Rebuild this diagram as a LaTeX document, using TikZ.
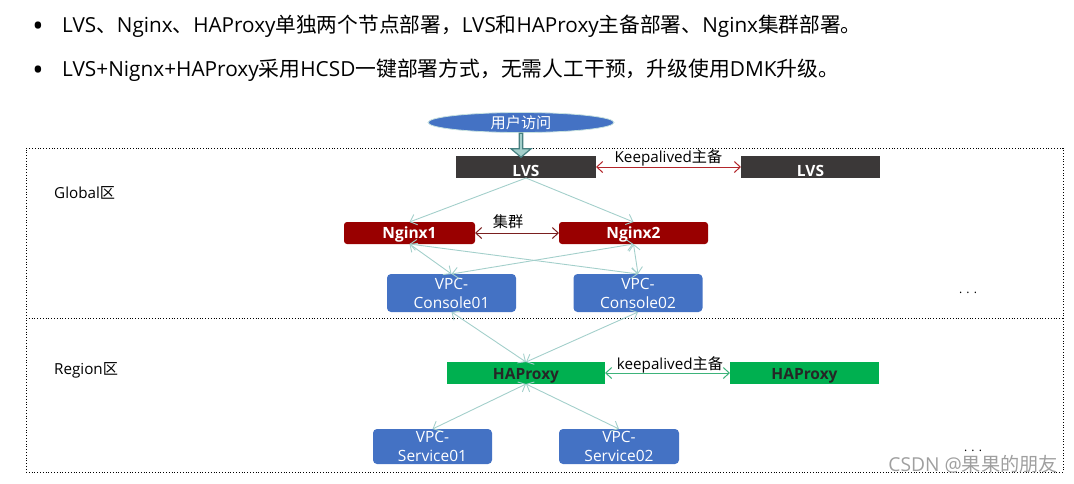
\documentclass[tikz,border=0pt]{standalone}
\usepackage{fontspec}
\setmainfont{Open Sans}
\newfontfamily\cjk{Noto Sans CJK SC}
\usepackage{tikz}
\usetikzlibrary{arrows,arrows.meta,shapes,calc,positioning}
\definecolor{userblue}{HTML}{4472C4}
\definecolor{lvsgrey}{HTML}{3B3838}
\definecolor{nginxred}{HTML}{990000}
\definecolor{proxygreen}{HTML}{00B050}
\definecolor{linkteal}{HTML}{A3CFCB}
\definecolor{peerred}{HTML}{B3262B}
\definecolor{peerdark}{HTML}{7A1F1F}
\definecolor{peergreen}{HTML}{3DB37A}
\newcommand{\zh}[1]{{\cjk #1}}
\tikzstyle{hostbox}=[inner sep=0pt, outer sep=0pt, text depth=0pt, text height=11.5pt,
                     font=\fontsize{15.5}{16}\selectfont\bfseries]
\tikzstyle{vpcbox}=[inner sep=0pt, outer sep=0pt, fill=userblue, text=white, rounded corners=4pt,
                    align=center, font=\fontsize{15.5}{19}\selectfont]
\tikzstyle{link}=[draw=linkteal, >={Straight Barb[length=6pt,width=11pt]}, line width=0.9pt]
\tikzstyle{peer}=[>={Straight Barb[length=6pt,width=11pt]}, line width=1pt]
\tikzstyle{caption}=[inner sep=0pt, font=\fontsize{15.2}{17}\selectfont]
\tikzstyle{bulletline}=[inner sep=0pt, anchor=west, font=\fontsize{20.7}{24}\selectfont]
\tikzstyle{bulletdot}=[inner sep=0pt, font=\fontsize{30}{32}\selectfont]
\begin{document}
\begin{tikzpicture}[x=1pt, y=-1pt]
    \useasboundingbox (0,0) rectangle (1074,483);
    % text above the diagram
    \node (dot1) [bulletdot] at (38,29) {•};
    \node (dot2) [bulletdot] at (38,73) {•};
    \node (line1) [bulletline] at (62,26) {LVS\zh{、}Nginx\zh{、}HAProxy\zh{单独两个节点部署，}LVS\zh{和}HAProxy\zh{主备部署、}Nginx\zh{集群部署。}};
    \node (line2) [bulletline, font=\fontsize{20.8}{24}\selectfont] at (62,70) {LVS+Nignx+HAProxy\zh{采用}HCSD\zh{一键部署方式，无需人工干预，升级使用}DMK\zh{升级。}};
    % zones
    \node (zone) [draw, dotted, line width=0.8pt, inner sep=0pt, outer sep=0pt,
        minimum width=1037pt, minimum height=324pt] at (544.5,310) {};
    \coordinate (midl) at (26,318);
    \coordinate (midr) at (1063,318);
    \draw[dotted, line width=0.8pt] (midl) -- (midr);
    \node (global) [caption, anchor=west] at (54,193) {Global\zh{区}};
    \node (region) [caption, anchor=west] at (54,370) {Region\zh{区}};
    % hosts
    \node (lvsa) [hostbox, fill=lvsgrey, text=white, text height=19pt, minimum width=140pt, minimum height=22pt] at (526,167) {LVS};
    \node (lvsb) [hostbox, fill=lvsgrey, text=white, text height=19pt, minimum width=139pt, minimum height=22pt] at (810.5,167) {LVS};
    \node (nginxa) [hostbox, fill=nginxred, text=white, rounded corners=3pt, minimum width=131pt, minimum height=22pt] at (409.5,233) {Nginx1};
    \node (nginxb) [hostbox, fill=nginxred, text=white, rounded corners=3pt, minimum width=149pt, minimum height=22pt] at (633.5,233) {Nginx2};
    \node (consolea) [vpcbox, minimum width=129pt, minimum height=38pt] at (451.5,293) {VPC-\\Console01};
    \node (consoleb) [vpcbox, minimum width=129pt, minimum height=38pt] at (638,293) {VPC-\\Console02};
    \node (proxya) [hostbox, fill=proxygreen, text=black!85, text height=13pt, minimum width=158pt, minimum height=22pt] at (526,373) {HAProxy};
    \node (proxyb) [hostbox, fill=proxygreen, text=black!85, text height=13pt, minimum width=149pt, minimum height=22pt] at (804.5,373) {HAProxy};
    \node (servicea) [vpcbox, minimum width=119pt, minimum height=35pt] at (432.5,446.5) {VPC-\\Service01};
    \node (serviceb) [vpcbox, minimum width=120pt, minimum height=35pt] at (619,446.5) {VPC-\\Service02};
    % entry
    \node (user) [ellipse, draw=linkteal!60, fill=userblue, text=white, inner sep=0pt, line width=0.8pt,
        minimum width=186pt, minimum height=20pt, font=\fontsize{15.2}{17}\selectfont\cjk] at (521,122.5) {用户访问};
    \node (entry) [single arrow, draw=teal!45!gray, fill=linkteal, line width=1.2pt, rotate=-90,
        single arrow head extend=3pt, single arrow tip angle=100, inner sep=0pt,
        minimum width=20pt, minimum height=24pt] at (521,144.5) {};
    % connectors
    \draw[link,->] (lvsa.south) -- (nginxa.north);
    \draw[link,->] (lvsa.south) -- (nginxb.north);
    \draw[link,<->] (nginxa.south) -- (consolea.north);
    \draw[link,<->] (nginxa.south) -- (consoleb.north);
    \draw[link,<->] (nginxb.south) -- (consolea.north);
    \draw[link,<->] (nginxb.south) -- (consoleb.north);
    \draw[link,<->] (proxya.north) -- (consolea.south);
    \draw[link,<->] (proxya.north) -- (consoleb.south);
    \draw[link,<->] (proxya.south) -- (servicea.north);
    \draw[link,<->] (proxya.south) -- (serviceb.north);
    \draw[peer,<->,color=peerred] (lvsa) -- (lvsb);
    \draw[peer,<->,color=peerdark] (nginxa) -- (nginxb);
    \draw[peer,<->,color=peergreen] (proxya) -- (proxyb);
    \node (lvspeer) [caption] at (668.5,158) {Keepalived\zh{主备}};
    \node (nginxpeer) [caption, font=\fontsize{15.2}{17}\selectfont\cjk] at (508,222) {集群};
    \node (proxypeer) [caption] at (670,365) {keepalived\zh{主备}};
    % the rest
    \node (morea) [caption, font=\fontsize{12}{13}\selectfont] at (968,293) {. . .};
    \node (moreb) [caption, font=\fontsize{12}{13}\selectfont] at (973,451) {. . .};
    \node (mark) [inner sep=0pt, anchor=east, text=gray!75, font=\fontsize{19.2}{22}\selectfont] at (1058,464) {CSDN @\zh{果果的朋友}};
\end{tikzpicture}
\end{document}
